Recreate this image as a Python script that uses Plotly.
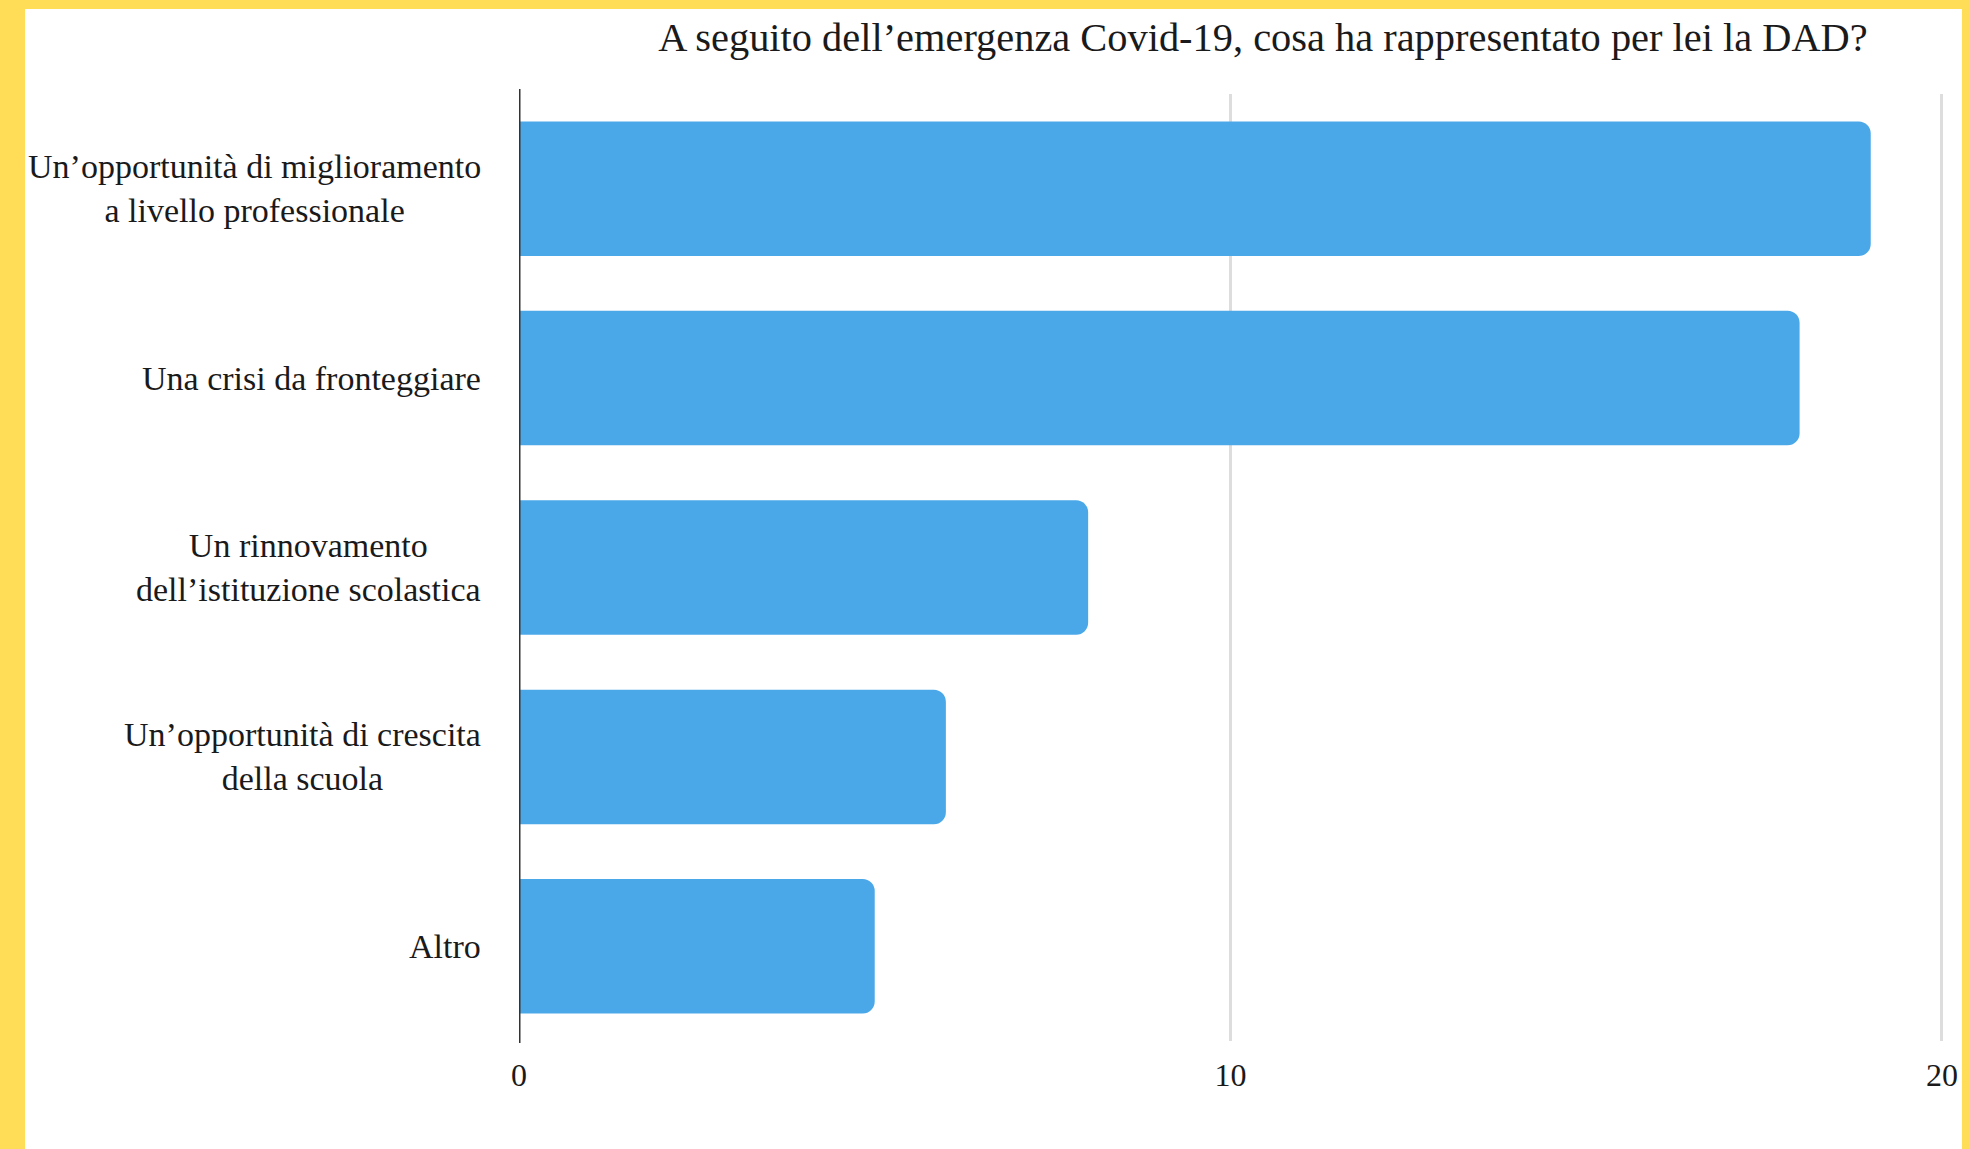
import plotly.graph_objects as go

categories = [
    "Un’opportunità di miglioramento<br>a livello professionale",
    "Una crisi da fronteggiare",
    "Un rinnovamento<br>dell’istituzione scolastica",
    "Un’opportunità di crescita<br>della scuola",
    "Altro",
]
values = [19, 18, 8, 6, 5]
x_ticks = [0, 10, 20]
title_text = "A seguito dell’emergenza Covid-19, cosa ha rappresentato per lei la DAD?"

FONT = "Liberation Serif"
TXT = "#1a1a1a"
W, H = 1970, 1149
L, R, T, B = 519, 15, 94, 108
pw = W - L - R
ph = H - T - B

fig = go.Figure()
fig.add_trace(go.Bar(
    y=categories, x=values, orientation="h",
    marker=dict(color="#4BA8E8", line=dict(width=0)),
    hoverinfo="x+y",
))

# Category labels: right-aligned block, lines centred inside the block
annotations = []
for c in categories:
    annotations.append(dict(
        x=0, xref="x", y=c, yref="y", text=c,
        showarrow=False, xanchor="right", yanchor="middle", align="center",
        xshift=-36,
        font=dict(family=FONT, size=34, color=TXT),
    ))

# white card on yellow frame
x0 = (23 - L) / pw
x1 = (1968 - L) / pw
y1 = (H - B - 9) / ph
y0 = -(B + 20) / ph

fig.update_layout(
    width=W, height=H,
    margin=dict(l=L, r=R, t=T, b=B, pad=0),
    paper_bgcolor="#FFDD57",
    plot_bgcolor="white",
    bargap=0.29,
    barcornerradius=12,
    showlegend=False,
    title=dict(
        text=title_text, xref="container", yref="container",
        x=1263 / W, xanchor="center", y=1 - 37 / H, yanchor="middle",
        font=dict(family=FONT, size=40.4, color=TXT),
    ),
    xaxis=dict(
        range=[0, 20.1], tickvals=x_ticks, ticktext=[str(v) for v in x_ticks],
        showgrid=True, gridcolor="#DDDDDD", gridwidth=3,
        zeroline=False, showline=False, ticks="",
        tickfont=dict(family=FONT, size=32, color=TXT),
        ticklabelstandoff=12, fixedrange=True,
    ),
    yaxis=dict(
        type="category", categoryorder="array", categoryarray=categories,
        range=[4.5, -0.5], showticklabels=False, showgrid=False,
        zeroline=False, showline=False, ticks="", fixedrange=True,
    ),
    shapes=[
        dict(type="rect", xref="paper", yref="paper", x0=x0, x1=x1, y0=y0, y1=y1,
             fillcolor="white", line=dict(width=0), layer="below"),
        dict(type="line", xref="x", yref="paper", x0=0, x1=0,
             y0=-2 / ph, y1=1 + 5 / ph,
             line=dict(color="#333333", width=3), layer="above"),
    ],
    annotations=annotations,
)

fig.write_html(
    "out.html",
    config={"displayModeBar": False},
    post_script="document.body.style.margin='0px';document.body.style.background='#FFDD57';document.body.style.overflow='hidden';",
)
